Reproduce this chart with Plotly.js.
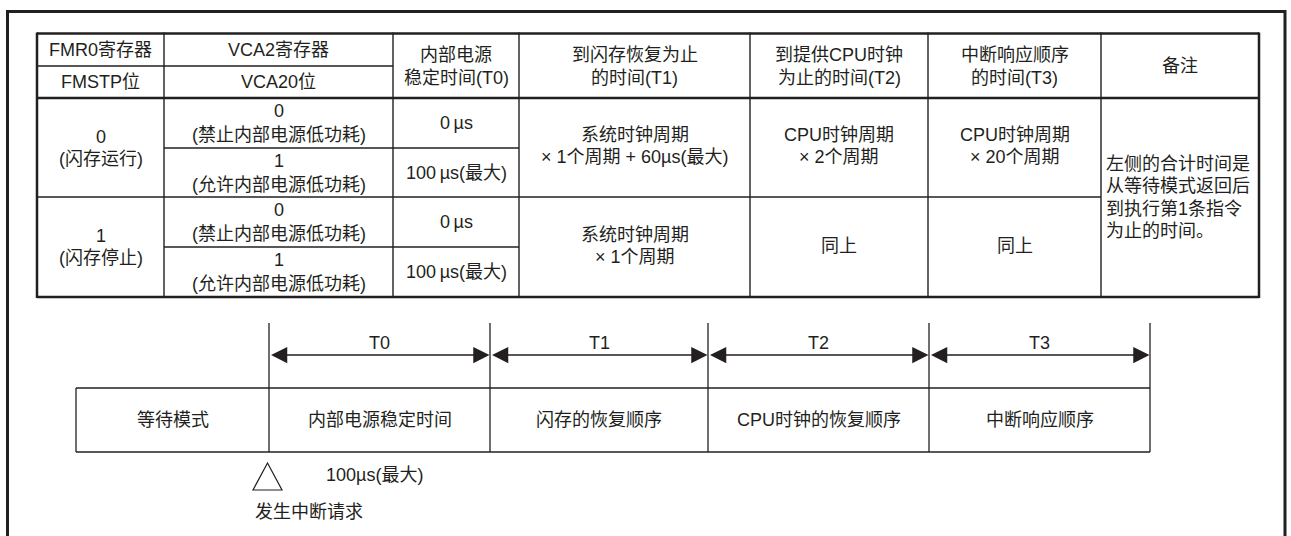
<!DOCTYPE html>
<html>
<head>
<meta charset="utf-8">
<script src="https://cdn.plot.ly/plotly-3.0.1.min.js"></script>
<style>
  html, body { margin: 0; padding: 0; background: #ffffff; }
  #chart { width: 1291px; height: 536px; }
</style>
</head>
<body>
<div id="chart"></div>
<script>
// ---------------- DATA (texts) ----------------
const headerRow1 = ['FMR0寄存器', 'VCA2寄存器'];
const headerRow2 = ['FMSTP位', 'VCA20位'];
const headerMerged = [
  ['内部电源', '稳定时间(T0)'],
  ['到闪存恢复为止', '的时间(T1)'],
  ['到提供CPU时钟', '为止的时间(T2)'],
  ['中断响应顺序', '的时间(T3)'],
  ['备注']
];
const fmstpValues = [['0', '(闪存运行)'], ['1', '(闪存停止)']];
const vca20Values = [
  ['0', '(禁止内部电源低功耗)'],
  ['1', '(允许内部电源低功耗)'],
  ['0', '(禁止内部电源低功耗)'],
  ['1', '(允许内部电源低功耗)']
];
const t0Values = ['0\u2009µs', '100\u2009µs(最大)', '0\u2009µs', '100\u2009µs(最大)'];
const t1Values = [['系统时钟周期', '× 1个周期 + 60µs(最大)'], ['系统时钟周期', '× 1个周期']];
const t2Values = [['CPU时钟周期', '× 2个周期'], ['同上']];
const t3Values = [['CPU时钟周期', '× 20个周期'], ['同上']];
const remarkLines = ['左侧的合计时间是', '从等待模式返回后', '到执行第1条指令', '为止的时间。'];

const phaseLabels = ['等待模式', '内部电源稳定时间', '闪存的恢复顺序', 'CPU时钟的恢复顺序', '中断响应顺序'];
const periodLabels = ['T0', 'T1', 'T2', 'T3'];
const t0Note = '100µs(最大)';
const interruptLabel = '发生中断请求';

// ---------------- LAYOUT GEOMETRY ----------------
const W = 1291, H = 536;
const FONT = 'Liberation Sans, Arial, Noto Sans CJK SC, sans-serif';
const FS = 18;
const INK = '#231f20';
const colX = [37, 164, 393, 519, 750, 928, 1101, 1259];
const rowY = [33.5, 66, 98, 148, 197, 247, 297];
const tlX = [76, 269, 490, 708, 929, 1150];
const tl = { tickTop: 323, arrowY: 355, labelY: 343, boxTop: 388, boxBot: 452 };

const shapes = [];
const annotations = [];

function line(x0, y0, x1, y1, w) {
  shapes.push({ type: 'line', xref: 'x', yref: 'y', x0, y0, x1, y1,
    line: { color: INK, width: w } });
}
function txt(t, x, y, anchor) {
  annotations.push({ xref: 'x', yref: 'y', x, y, text: t, showarrow: false,
    xanchor: anchor || 'center', yanchor: 'middle',
    font: { family: FONT, size: FS, color: INK } });
}
function lines(arr, cx, cy, sp, anchor) {
  const n = arr.length;
  arr.forEach((t, i) => txt(t, cx, cy + (i - (n - 1) / 2) * sp, anchor));
}
const mid = (a, b) => (a + b) / 2;

// outer frame
line(7.5, 11.5, 1285, 11.5, 3);
line(7.5, 10, 7.5, H, 3);
line(1285, 10, 1285, H, 3);

// ---------------- TABLE GRID ----------------
const thick = 2.5, thin = 1.4;
line(colX[0], rowY[0], colX[7], rowY[0], thick);
line(colX[0], rowY[1], colX[2], rowY[1], thin);
line(colX[0], rowY[2], colX[7], rowY[2], thick);
line(colX[1], rowY[3], colX[3], rowY[3], thin);
line(colX[0], rowY[4], colX[6], rowY[4], 1.7);
line(colX[1], rowY[5], colX[3], rowY[5], thin);
line(colX[0], rowY[6], colX[7], rowY[6], thick);
for (let i = 0; i < colX.length; i++) {
  const w = (i === 0 || i === colX.length - 1) ? thick : thin;
  line(colX[i], rowY[0] - 1, colX[i], rowY[6] + 1, w);
}

// ---------------- TABLE TEXT ----------------
for (let c = 0; c < 2; c++) {
  txt(headerRow1[c], mid(colX[c], colX[c + 1]), mid(rowY[0], rowY[1]));
  txt(headerRow2[c], mid(colX[c], colX[c + 1]), mid(rowY[1], rowY[2]));
}
headerMerged.forEach((arr, k) => {
  const c = k + 2;
  lines(arr, mid(colX[c], colX[c + 1]), mid(rowY[0], rowY[2]) + 0.5, 23);
});
fmstpValues.forEach((arr, g) => {
  lines(arr, mid(colX[0], colX[1]), mid(rowY[2 + 2 * g], rowY[4 + 2 * g]), 22);
});
vca20Values.forEach((arr, r) => {
  lines(arr, mid(colX[1], colX[2]), mid(rowY[2 + r], rowY[3 + r]), 24);
});
t0Values.forEach((t, r) => {
  txt(t, mid(colX[2], colX[3]), mid(rowY[2 + r], rowY[3 + r]));
});
[t1Values, t2Values, t3Values].forEach((vals, k) => {
  const c = k + 3;
  vals.forEach((arr, g) => {
    lines(arr, mid(colX[c], colX[c + 1]), mid(rowY[2 + 2 * g], rowY[4 + 2 * g]) - 1.5, 22);
  });
});
lines(remarkLines, colX[6] + 3, mid(rowY[2], rowY[6]), 22.3, 'left');

// ---------------- TIMELINE ----------------
const tw = 1.3;
line(tlX[0], tl.boxTop, tlX[5], tl.boxTop, tw);
line(tlX[0], tl.boxBot, tlX[5], tl.boxBot, tw);
line(tlX[0], tl.boxTop, tlX[0], tl.boxBot, tw);
for (let i = 1; i < tlX.length; i++) line(tlX[i], tl.tickTop, tlX[i], tl.boxBot, tw);

phaseLabels.forEach((t, i) => txt(t, mid(tlX[i], tlX[i + 1]), mid(tl.boxTop, tl.boxBot)));
periodLabels.forEach((t, i) => {
  const a = i + 1;
  txt(t, mid(tlX[a], tlX[a + 1]), tl.labelY);
  annotations.push({
    xref: 'x', yref: 'y', axref: 'x', ayref: 'y',
    x: tlX[a + 1] - 0.5, y: tl.arrowY, ax: tlX[a] + 0.5, ay: tl.arrowY,
    text: '', showarrow: true, arrowside: 'end+start',
    arrowhead: 2, startarrowhead: 2, arrowsize: 2.5, startarrowsize: 2.5,
    arrowwidth: 1.3, arrowcolor: INK, standoff: 0, startstandoff: 0
  });
});

// interrupt triangle
const tri = { x: 267.5, top: 463, base: 490, half: 14.5 };
shapes.push({ type: 'path', xref: 'x', yref: 'y',
  path: `M ${tri.x},${tri.top} L ${tri.x + tri.half},${tri.base} L ${tri.x - tri.half},${tri.base} Z`,
  line: { color: INK, width: 1.2 }, fillcolor: 'rgba(0,0,0,0)' });
txt(t0Note, 374, 475);
txt(interruptLabel, 309, 512);

// ---------------- PLOT ----------------
const layout = {
  width: W, height: H,
  margin: { l: 0, r: 0, t: 0, b: 0, pad: 0 },
  paper_bgcolor: '#ffffff', plot_bgcolor: '#ffffff',
  xaxis: { range: [0, W], visible: false, fixedrange: true },
  yaxis: { range: [H, 0], visible: false, fixedrange: true },
  showlegend: false,
  shapes, annotations
};
Plotly.newPlot('chart', [{ x: [], y: [], type: 'scatter', mode: 'markers', hoverinfo: 'skip' }], layout,
  { staticPlot: true, displayModeBar: false });
</script>
</body>
</html>
